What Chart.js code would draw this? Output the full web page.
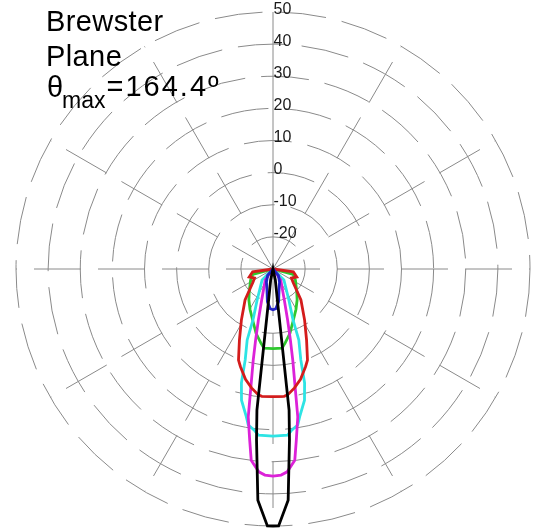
<!DOCTYPE html>
<html>
<head>
<meta charset="utf-8">
<script src="https://cdn.jsdelivr.net/npm/chart.js@4.4.1/dist/chart.umd.min.js"></script>
<style>
html,body{margin:0;padding:0;background:#fff;}
#wrap{position:relative;width:537px;height:530px;overflow:hidden;background:#fff;}
canvas{position:absolute;left:0;top:0;}
.t{position:absolute;font-family:"Liberation Sans",Arial,Helvetica,sans-serif;color:#000;line-height:1;white-space:nowrap;}
</style>
</head>
<body>
<div id="wrap">
<canvas id="c" width="537" height="530"></canvas>
<div class="t" style="left:46px;top:6.5px;font-size:29px;letter-spacing:0.4px">Brewster</div>
<div class="t" style="left:46px;top:41.5px;font-size:29px;letter-spacing:0.4px">Plane</div>
<div class="t" style="left:47px;top:72.5px;font-size:29px">θ</div>
<div class="t" style="left:62px;top:88.5px;font-size:23px">max</div>
<div class="t" style="left:106.5px;top:72px;font-size:29px;letter-spacing:2px">=164.4º</div>
</div>
<script>
// ---- angular categories (0.25° steps, clockwise from top) ----
const STEP = 0.25;
const N = 360 / STEP;
const angleLabels = Array.from({length: N}, (_, i) => (i * STEP) + '°');

// ---- radial axis (dB) ----
const rMin = -30, rMax = 50, rStep = 10;
const tickValues = [-20, -10, 0, 10, 20, 30, 40, 50];
const tickLabels = ['-20', '-10', '0', '10', '20', '30', '40', '50'];
const spokeAngles = [0, 30, 60, 90, 120, 150, 180, 210, 240, 270, 300, 330];

// ---- series: polar angle (deg) and level (dB) ----
const blackTheta = [155, 168, 172, 173.5, 174.5, 176.25, 178.75, 180, 181.25, 183.75, 185.5, 186.5, 188, 192, 205];
const blackDb    = [-30, -26.5, -20.2, 14.2, 23.5, 42.1, 50, 50, 50, 42.1, 23.5, 14.2, -20.2, -26.5, -30];

const blueTheta = [120, 140, 153, 164, 170.25, 176, 180, 184, 189.75, 196, 207, 220, 240];
const blueDb    = [-30, -27.4, -25.5, -23.2, -19.7, -17.6, -17.3, -17.6, -19.7, -23.2, -25.5, -27.4, -30];

const redTheta = [85, 98, 108.5, 116, 123, 138, 148.25, 154.75, 159.25, 161.5, 166, 169.75, 173.25, 175, 180,
                  185, 186.75, 190.25, 194, 198.5, 200.75, 205.25, 211.75, 222, 237, 244, 251.5, 262, 275];
const redDb    = [-30, -23.6, -22.2, -23.6, -22.6, -17, -11.3, -5.5, 0.3, 2.0, 5.4, 7.6, 9.4, 9.8, 9.7,
                  9.8, 9.4, 7.6, 5.4, 2.0, 0.3, -5.5, -11.3, -17, -22.6, -23.6, -22.2, -23.6, -30];

const magentaTheta = [130, 145, 160, 164, 166.25, 167.75, 169.25, 170.5, 172.25, 173.5, 176, 177.75, 180,
                      182.25, 184, 186.5, 187.75, 189.5, 190.75, 192.25, 193.75, 196, 200, 215, 230];
const magentaDb    = [-30, -25.8, -19.7, -13.5, -7.2, -1, 6.5, 16.7, 23.8, 29.9, 33.3, 34.2, 34.5,
                      34.2, 33.3, 29.9, 23.8, 16.7, 6.5, -1, -7.2, -13.5, -19.7, -25.8, -30];

const cyanTheta = [115, 135, 153, 158.5, 160, 163, 164.5, 166.5, 169.75, 171, 173.5, 175, 180,
                   185, 186.5, 189, 190.25, 193.5, 195.5, 197, 200, 201.5, 207, 225, 245];
const cyanDb    = [-30, -25.2, -19.1, -13, -6.5, -0.4, 6.8, 12, 16.7, 19.2, 20.6, 21.9, 22,
                   21.9, 20.6, 19.2, 16.7, 12, 6.8, -0.4, -6.5, -13, -19.1, -25.2, -30];

const greenTheta = [85, 105, 116.5, 135, 142, 150.5, 158.25, 165.25, 170.75, 173.5, 180,
                    186.5, 189.25, 194.75, 201.75, 209.5, 218, 225, 243.5, 255, 275];
const greenDb    = [-30, -23.5, -22.2, -19.5, -17.8, -15.5, -12.9, -9.3, -6.6, -5.2, -5.2,
                    -5.2, -6.6, -9.3, -12.9, -15.5, -17.8, -19.5, -22.2, -23.5, -30];

function toSeries(thetas, dbs) {
  const arr = new Array(N).fill(null);
  thetas.forEach((t, k) => { arr[Math.round(t / STEP) % N] = dbs[k]; });
  return arr;
}

function ds(label, color, thetas, dbs) {
  return {
    label, data: toSeries(thetas, dbs),
    borderColor: color, backgroundColor: color,
    borderWidth: 2.8, pointRadius: 0, pointHoverRadius: 0,
    fill: false, tension: 0, spanGaps: true,
    borderJoinStyle: 'miter'
  };
}

const tickTextPlugin = {
  id: 'tickText',
  afterDatasetsDraw(chart) {
    const s = chart.scales.r;
    const ctx = chart.ctx;
    ctx.save();
    ctx.font = '16px "Liberation Sans", Arial, sans-serif';
    ctx.fillStyle = '#1a1a1a';
    ctx.textAlign = 'left';
    ctx.textBaseline = 'alphabetic';
    tickValues.forEach((v, i) => {
      const d = s.getDistanceFromCenterForValue(v);
      ctx.fillText(tickLabels[i], s.xCenter + 0.5, s.yCenter - d + 1.5);
    });
    ctx.restore();
  }
};

new Chart(document.getElementById('c'), {
  type: 'radar',
  data: {
    labels: angleLabels,
    datasets: [
      ds('black', '#000000', blackTheta, blackDb),
      ds('blue', '#2222c8', blueTheta, blueDb),
      ds('red', '#d41c1c', redTheta, redDb),
      ds('magenta', '#dc22d8', magentaTheta, magentaDb),
      ds('cyan', '#2ee4e4', cyanTheta, cyanDb),
      ds('green', '#2ec82e', greenTheta, greenDb)
    ]
  },
  options: {
    responsive: false,
    animation: false,
    devicePixelRatio: 1,
    events: [],
    layout: { padding: { left: 16, right: 7, top: 12, bottom: 4 } },
    plugins: { legend: { display: false }, tooltip: { enabled: false } },
    scales: {
      r: {
        min: rMin, max: rMax, beginAtZero: false,
        ticks: { display: false, stepSize: rStep },
        pointLabels: { display: false },
        grid: { circular: true, color: '#8a8a8a', lineWidth: 1 },
        border: { dash: [48, 16] },
        angleLines: {
          display: true,
          color: '#8a8a8a',
          lineWidth: (c) => spokeAngles.includes(c.index * STEP) ? 1 : 0,
          borderDash: (c) => (c.index === 0 ? [] : [47, 17])
        }
      }
    }
  },
  plugins: [tickTextPlugin]
});
</script>
</body>
</html>
